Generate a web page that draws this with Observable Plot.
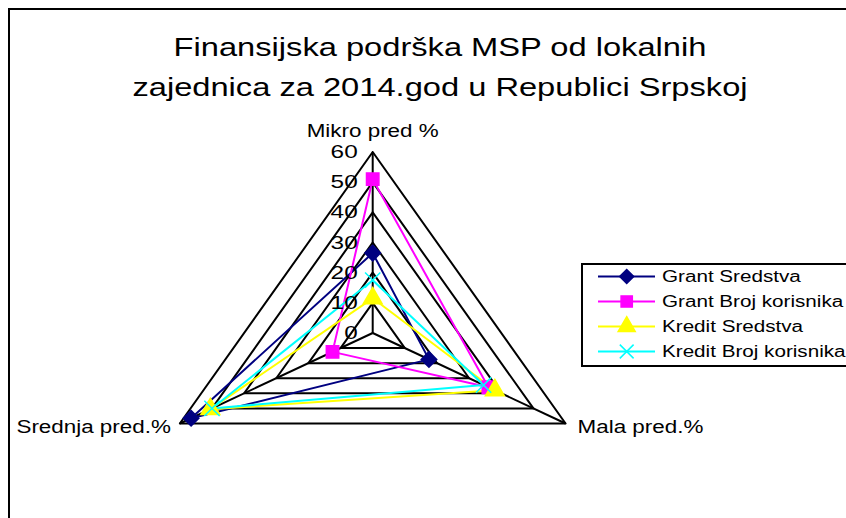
<!DOCTYPE html>
<html><head><meta charset="utf-8">
<script src="https://cdn.jsdelivr.net/npm/d3@7"></script>
<script src="https://cdn.jsdelivr.net/npm/@observablehq/plot@0.6"></script>
<style>
html,body{margin:0;padding:0;overflow:hidden;background:#fff;width:846px;height:518px}
body{position:relative;font-family:"Liberation Sans",Arial,sans-serif;color:#000}
#frame{position:absolute;left:8px;top:8px;width:900px;height:600px;border-left:2px solid #000;border-top:2px solid #000}
#title{position:absolute;left:0;top:27px;width:880px;text-align:center;font-size:25.5px;line-height:40px}
#title div{transform:scaleX(1.28);transform-origin:50% 50%;white-space:nowrap}
#chart{position:absolute;left:0;top:0}
#legend{position:absolute;left:581px;top:263px;width:300px;height:100px;border:2px solid #000;background:#fff}
.row{position:absolute;left:0;height:25px;width:300px}
.row svg{position:absolute;left:15px;top:0}
.row span{position:absolute;left:79px;top:3px;font-size:16px;line-height:19px;white-space:nowrap;transform:scaleX(1.29);transform-origin:0 50%}
</style></head>
<body>
<div id="frame"></div>
<div id="title"><div>Finansijska podrška MSP od lokalnih</div><div>zajednica za 2014.god u Republici Srpskoj</div></div>
<div id="chart"></div>
<div id="legend"></div>
<script>
// ---- data ----
const axesNames = ["Mikro pred %", "Mala pred.%", "Srednja pred.%"];
const gridLevels = [10, 20, 30, 40, 50, 60];
const tickLabels = [0, 10, 20, 30, 40, 50, 60];
const seriesNames = ["Grant Sredstva", "Grant Broj korisnika", "Kredit Sredstva", "Kredit Broj korisnika"];
const grantSredstva = [26.5, 17.5, 56.5];
const grantBrojKorisnika = [51, 36, 12.5];
const kreditSredstva = [11.5, 38, 50.5];
const kreditBrojKorisnika = [17.5, 34.5, 50];
const seriesColors = ["#000080", "#FF00FF", "#FFFF00", "#00FFFF"];
const seriesSymbols = ["diamond2", "square", "triangle", "times"];

// ---- build tables ----
const seriesValues = [grantSredstva, grantBrojKorisnika, kreditSredstva, kreditBrojKorisnika];
const angle = i => i * 2 * Math.PI / axesNames.length;
const px = (v, i) => v * Math.sin(angle(i));
const py = (v, i) => v * Math.cos(angle(i));

const gridRows = [];
for (const lv of gridLevels) for (let k = 0; k <= axesNames.length; k++) {
  const i = k % axesNames.length;
  gridRows.push({level: lv, x: px(lv, i), y: py(lv, i)});
}
const axisRows = axesNames.map((name, i) => ({name, i, x: px(60, i), y: py(60, i)}));

const pointRows = [], lineRows = [];
seriesNames.forEach((s, j) => {
  const vals = seriesValues[j];
  for (let k = 0; k <= vals.length; k++) {
    const i = k % vals.length;
    const r = {series: s, axis: axesNames[i], value: vals[i], x: px(vals[i], i), y: py(vals[i], i)};
    lineRows.push(r);
    if (k < vals.length) pointRows.push(r);
  }
});

const font = "Liberation Sans, Arial, sans-serif";
const chart = Plot.plot({
  width: 846, height: 518, margin: 0,
  style: {fontFamily: font, background: "transparent", color: "#000"},
  x: {domain: [-60, 60], range: [149.5, 594.9], axis: null},
  y: {domain: [-60, 60], range: [513.5, 151.5], axis: null},
  color: {domain: seriesNames, range: seriesColors},
  symbol: {domain: seriesNames, range: seriesSymbols},
  marks: [
    Plot.line(gridRows, {x: "x", y: "y", z: "level", stroke: "#000", strokeWidth: 2}),
    Plot.link(axisRows, {x1: d => 0, y1: d => 0, x2: "x", y2: "y", stroke: "#000", strokeWidth: 2}),
    Plot.line(lineRows, {x: "x", y: "y", z: "series", stroke: "series", strokeWidth: 2}),
    Plot.dot(pointRows, {x: "x", y: "y", symbol: "series", fill: "series", stroke: "series", strokeWidth: 1.5, r: 7}),
    Plot.text(tickLabels, {x: d => 0, y: d => d, text: d => String(d), textAnchor: "end", dx: -15, fontSize: 19, fill: "#000"}),
    Plot.text(axisRows.filter(d => d.i === 0), {x: "x", y: "y", text: "name", textAnchor: "middle", dy: -21, fontSize: 17.5, fill: "#000"}),
    Plot.text(axisRows.filter(d => d.i === 1), {x: "x", y: "y", text: "name", textAnchor: "start", dx: 12, dy: 4, fontSize: 17.5, fill: "#000"}),
    Plot.text(axisRows.filter(d => d.i === 2), {x: "x", y: "y", text: "name", textAnchor: "end", dx: -9, dy: 4, fontSize: 17.5, fill: "#000"})
  ]
});
document.getElementById("chart").appendChild(chart);
// horizontal stretch of the text, as in the reference
chart.querySelectorAll("text").forEach(t => {
  const len = t.getComputedTextLength();
  t.setAttribute("textLength", (len * 1.28).toFixed(1));
  t.setAttribute("lengthAdjust", "spacingAndGlyphs");
});

// ---- legend ----
const legend = d3.select("#legend");
const symMap = {diamond2: d3.symbolDiamond2, square: d3.symbolSquare, triangle: d3.symbolTriangle, times: d3.symbolTimes};
seriesNames.forEach((s, j) => {
  const row = legend.append("div").attr("class", "row").style("top", (-1.5 + j * 25.2) + "px");
  const svg = row.append("svg").attr("width", 60).attr("height", 25);
  svg.append("line").attr("x1", 0).attr("x2", 57).attr("y1", 12.5).attr("y2", 12.5)
    .attr("stroke", seriesColors[j]).attr("stroke-width", 2);
  svg.append("path").attr("transform", "translate(28.7,12.5)")
    .attr("d", d3.symbol(symMap[seriesSymbols[j]], Math.PI * 40)())
    .attr("fill", seriesColors[j]).attr("stroke", seriesColors[j]).attr("stroke-width", 1.5);
  row.append("span").text(s);
});
</script>
</body></html>
